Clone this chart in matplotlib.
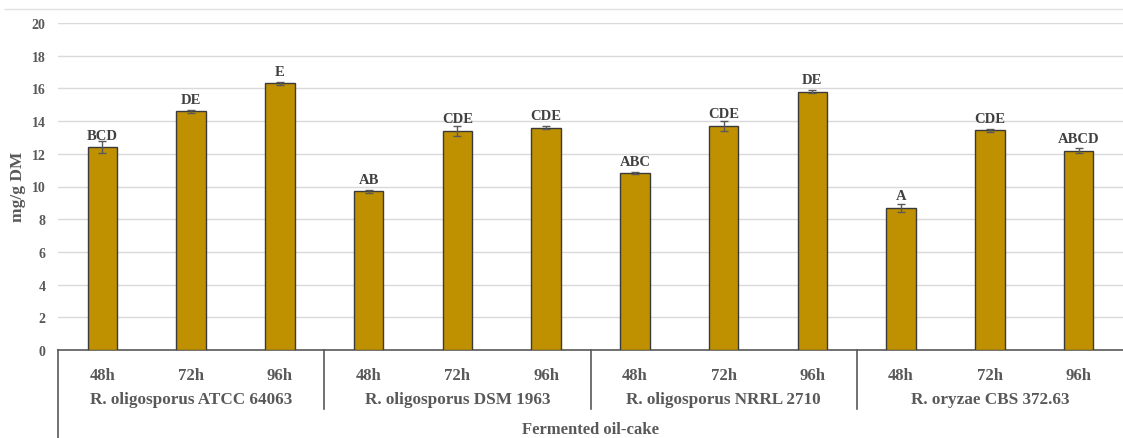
import matplotlib
matplotlib.use("Agg")
import matplotlib.pyplot as plt
from matplotlib.lines import Line2D

plt.rcParams['font.family'] = ['Liberation Serif', 'DejaVu Serif']
plt.rcParams['font.weight'] = 'bold'

# fungal strains, incubation times and measured values (mg/g DM)
strains = ["R. oligosporus ATCC 64063", "R. oligosporus DSM 1963",
           "R. oligosporus NRRL 2710", "R. oryzae CBS 372.63"]
hours = ["48h", "72h", "96h"]
values = [12.4, 14.6, 16.3,
          9.7, 13.4, 13.6,
          10.8, 13.7, 15.8,
          8.7, 13.45, 12.2]
errors = [0.38, 0.1, 0.07,
          0.08, 0.3, 0.07,
          0.06, 0.28, 0.08,
          0.26, 0.09, 0.13]
letters = ["BCD", "DE", "E",
           "AB", "CDE", "CDE",
           "ABC", "CDE", "DE",
           "A", "CDE", "ABCD"]

grey = "#595959"
fig = plt.figure(figsize=(11.23, 4.39), dpi=100)
ax = fig.add_axes([58 / 1123, 88 / 439, 1065 / 1123, 327 / 439])

x = list(range(len(values)))
ax.bar(x, values, width=0.33, color="#BF9000", edgecolor="#3a3a3a",
       linewidth=1, zorder=3)
ax.errorbar(x, values, yerr=errors, fmt="none", ecolor=grey,
            elinewidth=1, capsize=3, capthick=1, zorder=4)
for xi, v, lab in zip(x, values, letters):
    ax.annotate(lab, (xi, v), xytext=(0, 4), textcoords="offset points",
                ha="center", va="bottom", fontsize=10.5, color="#404040",
                fontweight="bold")

ax.set_xlim(-0.5, len(values) - 0.5)
ax.set_ylim(0, 20)
ax.set_yticks(range(0, 21, 2))
ax.yaxis.grid(True, color="#d9d9d9", linewidth=1)
ax.set_axisbelow(True)
ax.tick_params(axis="y", length=0, pad=9, labelsize=10, labelcolor=grey)
ax.set_xticks(x)
ax.set_xticklabels(hours * len(strains))
ax.tick_params(axis="x", length=0, pad=12, labelsize=12, labelcolor=grey)
for side in ["left", "right", "top"]:
    ax.spines[side].set_visible(False)
ax.spines["bottom"].set_color(grey)
ax.spines["bottom"].set_linewidth(1.2)

# group separators and strain labels under the hour labels
trans = ax.get_xaxis_transform()
ax.plot([-0.5, -0.5], [0, -0.27], color=grey, lw=1.2, transform=trans,
        clip_on=False)
for i in range(1, len(strains)):
    xs = i * 3 - 0.5
    ax.plot([xs, xs], [0, -0.18], color=grey, lw=1.2, transform=trans,
            clip_on=False)
for i, name in enumerate(strains):
    ax.text(i * 3 + 1, -0.15, name, transform=trans, ha="center",
            va="center", fontsize=12.3, color=grey, fontweight="bold")

ax.text(5.5, -0.242, "Fermented oil-cake", transform=trans, ha="center",
        va="center", fontsize=12, color=grey, fontweight="bold")
fig.text(18 / 1123, 0.574, "mg/g DM", rotation=90, ha="center",
         va="center", fontsize=12.5, color=grey, fontweight="bold")

# light chart border line along the top
fig.add_artist(Line2D([5 / 1123, 1], [1 - 10 / 439, 1 - 10 / 439],
                      color="#e0e0e0", lw=1))

fig.savefig("out.png", dpi=100)
